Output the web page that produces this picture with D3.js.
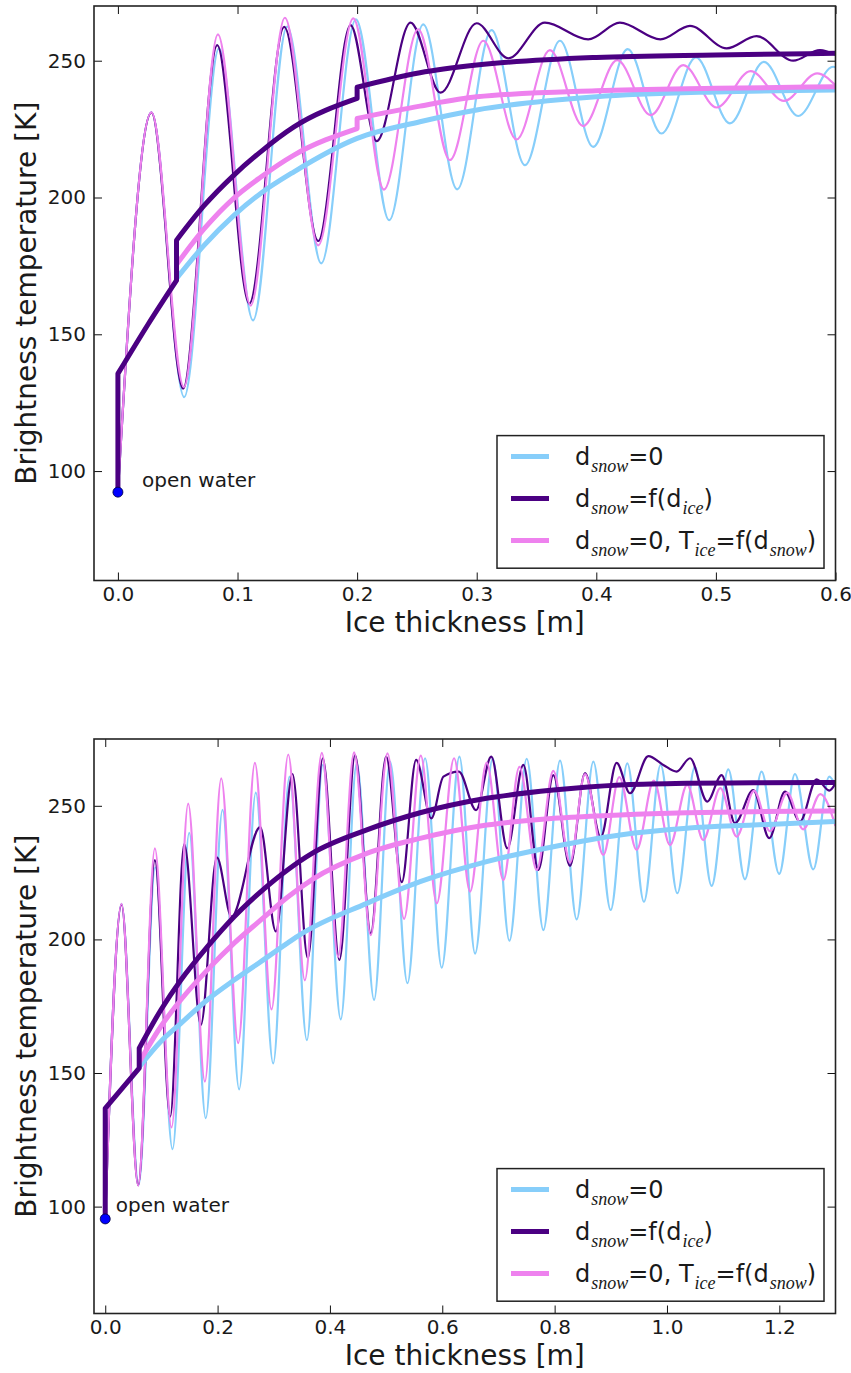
<!DOCTYPE html>
<html><head><meta charset="utf-8">
<script src="https://cdn.jsdelivr.net/npm/d3@7"></script>
<style>body{margin:0;background:#fff} svg{display:block} text{font-family:"DejaVu Sans",sans-serif;fill:#1a1a1a}</style>
</head><body><svg id="c" width="851" height="1373"></svg>
<script>
// ---------------- DATA (ice thickness [m], brightness temperature [K]) ----------------
// Top panel
const topXTicks = [0, 0.1, 0.2, 0.3, 0.4, 0.5, 0.6];
const topYTicks = [100, 150, 200, 250];
const topOpenWater = [0, 92.3];
const topBlueOsc = [[0,92.3],[0.0281,231.1],[0.0554,127.0],[0.0845,254.5],[0.113,155.1],[0.1415,262.5],[0.170,175.9],[0.199,265.1],[0.2268,191.7],[0.2553,263.3],[0.2837,203.0],[0.3124,261.2],[0.3403,211.8],[0.3696,257.3],[0.3974,218.5],[0.4262,254.2],[0.4545,223.4],[0.4833,251.2],[0.5117,227.1],[0.5401,249.6],[0.5688,229.8],[0.598,247.8],[0.6,247.6]];
const topPurpleOsc = [[0,92.3],[0.0281,231.0],[0.0545,130.1],[0.083,255.7],[0.1098,161.2],[0.139,262.4],[0.1675,184.1],[0.1945,263.0],[0.2163,220.6],[0.2447,263.9],[0.2698,238.3],[0.2999,263.7],[0.3264,250.9],[0.357,263.9],[0.3932,257.8],[0.4197,263.9],[0.4537,257.8],[0.4783,262.7],[0.509,254.5],[0.534,259.0],[0.5646,250.0],[0.587,253.9],[0.6,252.2]];
const topPinkOsc = [[0,92.3],[0.0281,231.1],[0.0552,130.7],[0.0836,259.6],[0.111,160.5],[0.1396,265.7],[0.1675,182.5],[0.1968,265.5],[0.2224,202.9],[0.251,261.5],[0.2776,213.7],[0.3055,257.3],[0.3333,221.2],[0.3612,253.9],[0.389,226.1],[0.4175,250.2],[0.4454,230.1],[0.4727,248.4],[0.5006,232.9],[0.529,246.2],[0.5569,235.3],[0.5847,245.4],[0.6,241.0]];
const topBlueMean = [[0.049,170.4],[0.072,182.5],[0.097,193.5],[0.1193,201.5],[0.1472,209.4],[0.2,221.6],[0.2525,227.7],[0.3,232.0],[0.4,236.8],[0.5,238.6],[0.6,239.3]];
const topPurpleMean = [[0,92.3],[0,135.6],[0.025,153.5],[0.049,169.7],[0.049,184.4],[0.072,197.0],[0.097,208.2],[0.1193,216.7],[0.1472,225.8],[0.2,236.2],[0.2,240.3],[0.2525,245.6],[0.3,248.4],[0.4,251.2],[0.5,252.1],[0.6,252.7]];
const topPinkMean = [[0.049,175.5],[0.072,188.5],[0.097,199.8],[0.1193,207.4],[0.1472,215.5],[0.2,225.2],[0.2,228.9],[0.2525,233.4],[0.3,236.8],[0.4,239.0],[0.5,239.9],[0.6,240.5]];

// Bottom panel
const botXTicks = [0, 0.2, 0.4, 0.6, 0.8, 1.0, 1.2];
const botYTicks = [100, 150, 200, 250];
const botOpenWater = [0, 95.4];
const botBlueOsc = [[0,95.4],[0.029,213.3],[0.0595,108],[0.089,227],[0.1198,121.5],[0.1495,239.9],[0.179,133.1],[0.2088,248.5],[0.2384,143.9],[0.268,254.9],[0.299,153.6],[0.328,260.9],[0.359,162.3],[0.3873,265.3],[0.4193,170.1],[0.4478,265.9],[0.4786,177.4],[0.5071,266.5],[0.538,183.6],[0.5694,267.8],[0.599,189.4],[0.6305,268.4],[0.6584,194.7],[0.6898,267.8],[0.7195,199.5],[0.7503,267.6],[0.78,203.5],[0.8096,266.9],[0.8393,207.5],[0.8689,266.5],[0.8998,211],[0.9294,265.9],[0.959,214.1],[0.9887,265.3],[1.0184,217.3],[1.0498,264.6],[1.0795,220],[1.1091,263.6],[1.1388,222.5],[1.1684,262.8],[1.1998,224.5],[1.2278,261.9],[1.2604,226.2],[1.2888,260.9],[1.3,257.5]];
const botPurpleOsc = [[0,95.4],[0.029,213],[0.0587,108],[0.0884,229.7],[0.1157,133.7],[0.1406,235.7],[0.1702,168],[0.1987,230.7],[0.2248,208.5],[0.2758,242],[0.3037,203],[0.3333,261.9],[0.3606,193],[0.3873,267.8],[0.4169,192.3],[0.4448,269],[0.4727,202.3],[0.5,268.4],[0.5279,221.4],[0.5534,267.2],[0.5805,245.3],[0.602,260.9],[0.6295,262.8],[0.6601,248.4],[0.6872,268.4],[0.7158,234.1],[0.7443,265.3],[0.771,226],[0.7977,261.5],[0.8274,227.5],[0.8541,262.2],[0.882,238.2],[0.9104,266.1],[0.9342,254.7],[0.9668,268.6],[0.9935,265.3],[1.0172,262.8],[1.041,267.8],[1.0717,251.6],[1.0973,261.5],[1.121,243.5],[1.1536,255.9],[1.182,237.9],[1.21,255.3],[1.2367,244.1],[1.2664,259.9],[1.2888,255.7],[1.3,258.4]];
const botPinkOsc = [[0,95.4],[0.029,213.3],[0.0587,107.8],[0.0884,234.1],[0.118,129.6],[0.1477,250.8],[0.1774,146.8],[0.2065,260.3],[0.2367,161.2],[0.2664,266.1],[0.296,173.8],[0.3258,269.2],[0.3553,184.7],[0.3856,269.8],[0.4146,193.5],[0.443,270],[0.4727,201.6],[0.5024,269.6],[0.532,207.7],[0.5617,268.8],[0.5902,213.5],[0.621,267.8],[0.6495,217.9],[0.679,266.2],[0.7087,222.2],[0.7373,264.6],[0.7681,226],[0.7977,263.1],[0.8274,228.8],[0.854,261.9],[0.8866,231.6],[0.9152,260.7],[0.946,233.5],[0.9765,259.4],[1.0053,235.3],[1.036,257.8],[1.0646,237.2],[1.095,256.6],[1.124,238.5],[1.155,255.6],[1.1833,240.5],[1.214,254.9],[1.2426,241.2],[1.273,254.4],[1.3,242.5]];
const botBlueMean = [[0.0605,152.3],[0.099,161.8],[0.1347,168.6],[0.182,177.4],[0.2295,184.8],[0.277,191.7],[0.3244,198.6],[0.347,201.8],[0.4656,213.5],[0.5605,221.6],[0.679,229.1],[0.7977,234.7],[0.9164,239.1],[1.035,241.6],[1.1536,242.8],[1.3,244.1]];
const botPurpleMean = [[0,95.4],[0,136.8],[0.0605,151.8],[0.0605,159.3],[0.099,173.6],[0.1347,184.8],[0.182,197.3],[0.2295,208.5],[0.277,217.9],[0.3244,226],[0.3689,232.3],[0.4656,241],[0.5605,247.4],[0.679,252.8],[0.7977,255.9],[0.9164,257.8],[1.035,258.4],[1.1536,258.6],[1.3,258.7]];
const botPinkMean = [[0.0605,154],[0.099,167.4],[0.1347,177.4],[0.182,188.6],[0.2295,198.6],[0.277,207.3],[0.3244,215.8],[0.369,222.5],[0.4656,232.2],[0.5605,237.8],[0.679,242.8],[0.7977,245.3],[0.9164,246.6],[1.035,247.4],[1.1536,247.8],[1.3,248.1]];

// Legend labels (text parts; second element marks a subscript)
const legendLabels = [
  [["d"],["snow",1],["=0"]],
  [["d"],["snow",1],["=f(d"],["ice",1],[")"]],
  [["d"],["snow",1],["=0, T"],["ice",1],["=f(d"],["snow",1],[")"]]
];
const legendColors = ["blue","purple","pink"];
const annotationText = "open water";

// ---------------- DRAWING ----------------
const COLORS = {blue:"#87CEFA", purple:"#4B0082", pink:"#EE82EE"};
const svg = d3.select("#c");
svg.append("rect").attr("width",851).attr("height",1373).attr("fill","#fff");

function panel(cfg){
  const x = d3.scaleLinear().domain(cfg.xDomain).range([cfg.left, cfg.right]);
  const y = d3.scaleLinear().domain(cfg.yDomain).range([cfg.bottom, cfg.top]);
  const g = svg.append("g");
  const clipId = "clip"+cfg.id;
  svg.append("clipPath").attr("id",clipId).append("rect")
    .attr("x",cfg.left).attr("y",cfg.top).attr("width",cfg.right-cfg.left).attr("height",cfg.bottom-cfg.top);
  const plot = g.append("g").attr("clip-path",`url(#${clipId})`);
  const line = d3.line().x(d=>x(d[0])).y(d=>y(d[1])).curve(d3.curveMonotoneX);

  function segPath(data){
    const segs=[]; let cur=[data[0]];
    for(let i=1;i<data.length;i++){
      if(data[i][0]===data[i-1][0]){ segs.push(cur); cur=[data[i]]; } else cur.push(data[i]);
    }
    segs.push(cur);
    return segs.map((s,i)=>{
      const p = s.length===1 ? `M${x(s[0][0])},${y(s[0][1])}` : line(s);
      return i===0 ? p : "L"+p.slice(1);
    }).join("");
  }

  cfg.osc.forEach(s=>plot.append("path").attr("d",line(s.data)).attr("fill","none")
    .attr("stroke",COLORS[s.c]).attr("stroke-width",2.2).attr("stroke-linejoin","round"));
  cfg.mean.forEach(s=>plot.append("path").attr("d",segPath(s.data)).attr("fill","none")
    .attr("stroke",COLORS[s.c]).attr("stroke-width",5).attr("stroke-linejoin","round"));

  // open water point + annotation
  g.append("circle").attr("cx",x(cfg.dot[0])).attr("cy",y(cfg.dot[1])).attr("r",5)
    .attr("fill","#0000ff").attr("stroke","#00003a").attr("stroke-width",0.8);
  g.append("text").attr("x",x(cfg.note[0])).attr("y",y(cfg.note[1])).attr("font-size",20).text(annotationText);

  // axes (inside ticks on all four sides)
  const fmtX = d3.format(cfg.xFmt);
  const ax = [
    [d3.axisBottom(x).tickValues(cfg.xTicks).tickFormat(fmtX).tickSize(-8).tickPadding(6), `translate(0,${cfg.bottom})`],
    [d3.axisTop(x).tickValues(cfg.xTicks).tickFormat("").tickSize(-8), `translate(0,${cfg.top})`],
    [d3.axisLeft(y).tickValues(cfg.yTicks).tickFormat(d3.format("d")).tickSize(-8).tickPadding(8), `translate(${cfg.left},0)`],
    [d3.axisRight(y).tickValues(cfg.yTicks).tickFormat("").tickSize(-8), `translate(${cfg.right},0)`]
  ];
  ax.forEach(([a,t])=>{
    const ag = g.append("g").attr("transform",t).call(a);
    ag.select(".domain").remove();
    ag.selectAll("line").attr("stroke","#111").attr("stroke-width",1);
    ag.selectAll("text").attr("font-size",20).attr("font-family","DejaVu Sans").attr("fill","#1a1a1a");
  });
  g.append("rect").attr("x",cfg.left).attr("y",cfg.top).attr("width",cfg.right-cfg.left).attr("height",cfg.bottom-cfg.top)
    .attr("fill","none").attr("stroke","#222").attr("stroke-width",1.6);

  // axis labels
  g.append("text").attr("x",(cfg.left+cfg.right)/2).attr("y",cfg.bottom+51).attr("text-anchor","middle")
    .attr("font-size",28).text("Ice thickness [m]");
  g.append("text").attr("transform",`translate(36,${(cfg.top+cfg.bottom)/2}) rotate(-90)`).attr("text-anchor","middle")
    .attr("font-size",28).text("Brightness temperature [K]");

  // legend
  const lx1 = cfg.right-11.5, lx0 = lx1-327, ly1 = cfg.bottom-12.3, ly0 = ly1-132.6;
  const lg = g.append("g");
  lg.append("rect").attr("x",lx0).attr("y",ly0).attr("width",lx1-lx0).attr("height",ly1-ly0)
    .attr("fill","#fff").attr("stroke","#222").attr("stroke-width",1.5);
  legendLabels.forEach((parts,i)=>{
    const ry = ly0 + 21 + i*42;
    lg.append("line").attr("x1",lx0+14).attr("x2",lx0+52).attr("y1",ry).attr("y2",ry)
      .attr("stroke",COLORS[legendColors[i]]).attr("stroke-width",5);
    const t = lg.append("text").attr("x",lx0+78).attr("y",ry+8.5).attr("font-size",24);
    let shifted = false;
    parts.forEach(p=>{
      const ts = t.append("tspan").text(p[0]);
      if(p[1]){
        ts.style("font-family","'Liberation Serif', 'DejaVu Serif', serif").style("font-style","italic")
          .style("font-size","18px").attr("dx",1).attr("dy", shifted?0:6.5);
        shifted = true;
      } else if(shifted){ ts.attr("dy",-6.5); shifted=false; }
    });
  });
}

panel({id:"t", left:94, right:835.5, top:6, bottom:580.5, xDomain:[-0.02,0.6], yDomain:[60,270],
  xTicks:topXTicks, yTicks:topYTicks, xFmt:".1f", dot:topOpenWater, note:[0.0202,94.3],
  osc:[{c:"blue",data:topBlueOsc},{c:"purple",data:topPurpleOsc},{c:"pink",data:topPinkOsc}],
  mean:[{c:"blue",data:topBlueMean},{c:"pink",data:topPinkMean},{c:"purple",data:topPurpleMean}]});
panel({id:"b", left:94, right:835.5, top:739, bottom:1313.5, xDomain:[-0.02,1.3], yDomain:[60,275],
  xTicks:botXTicks, yTicks:botYTicks, xFmt:".1f", dot:botOpenWater, note:[0.0187,97.8],
  osc:[{c:"blue",data:botBlueOsc},{c:"purple",data:botPurpleOsc},{c:"pink",data:botPinkOsc}],
  mean:[{c:"blue",data:botBlueMean},{c:"pink",data:botPinkMean},{c:"purple",data:botPurpleMean}]});
</script></body></html>
